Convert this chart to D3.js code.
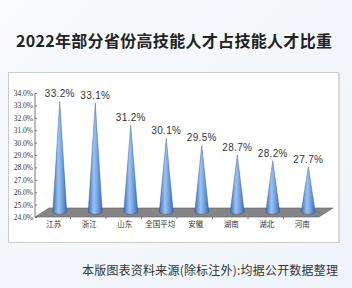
<!DOCTYPE html>
<html>
<head>
<meta charset="utf-8">
<script src="https://cdn.jsdelivr.net/npm/d3@7"></script>
<style>
  body { margin: 0; background: #f3f7fb; }
  svg { display: block; }
</style>
</head>
<body>
<svg id="chart" width="352" height="288"></svg>
<script>
const provinces = ['江苏', '浙江', '山东', '全国平均', '安徽', '湖南', '湖北', '河南'];
const shares = [33.2, 33.1, 31.2, 30.1, 29.5, 28.7, 28.2, 27.7];
const yTicks = [24, 25, 26, 27, 28, 29, 30, 31, 32, 33, 34];

const svg = d3.select('#chart');
const depthX = 14, depthY = 9;

// background gradient + panel
const defs = svg.append('defs');
const bg = defs.append('linearGradient').attr('id', 'bg').attr('x1', 0).attr('y1', 0).attr('x2', 1).attr('y2', 1);
bg.append('stop').attr('offset', '0%').attr('stop-color', '#f9fbfd');
bg.append('stop').attr('offset', '100%').attr('stop-color', '#eef4fa');
svg.append('rect').attr('width', 352).attr('height', 288).attr('fill', 'url(#bg)');

const cone = defs.append('linearGradient').attr('id', 'cone');
cone.append('stop').attr('offset', '0%').attr('stop-color', '#3a6cbc');
cone.append('stop').attr('offset', '40%').attr('stop-color', '#9cc3f0');
cone.append('stop').attr('offset', '60%').attr('stop-color', '#7eabe6');
cone.append('stop').attr('offset', '100%').attr('stop-color', '#3a6cbc');

svg.append('text')
    .attr('x', 16).attr('y', 47)
    .attr('font-family', '"Noto Sans CJK SC", sans-serif')
    .attr('font-weight', 'bold')
    .attr('font-size', 16)
    .attr('textLength', 316)
    .attr('lengthAdjust', 'spacing')
    .attr('fill', '#222')
    .text('2022年部分省份高技能人才占技能人才比重');

svg.append('rect')
    .attr('x', 8.5).attr('y', 72.5).attr('width', 330).attr('height', 170)
    .attr('fill', '#fff').attr('stroke', '#c9cbcd').attr('stroke-width', 1);
svg.append('line').attr('x1', 339).attr('x2', 339).attr('y1', 73).attr('y2', 243)
    .attr('stroke', '#d6d8da').attr('stroke-width', 2);

// scales
const x = d3.scaleBand().domain(provinces).range([35, 319]);
const y = d3.scaleLinear().domain([24, 34]).range([217, 93]);
const yCone = d3.scaleLinear().domain([24, 34]).range([210.5, 92]);

// floor
const floor = d3.path();
floor.moveTo(35, 217);
floor.lineTo(319, 217);
floor.lineTo(319 + depthX, 217 - depthY);
floor.lineTo(35 + depthX, 217 - depthY);
floor.closePath();
svg.append('path').attr('d', floor.toString())
    .attr('fill', '#858585').attr('stroke', '#5e5e5e').attr('stroke-width', 0.6);

// y axis
const yAxis = svg.append('g').attr('transform', 'translate(35,0)')
    .call(d3.axisRight(y).tickValues(yTicks).tickSize(2).tickFormat(d => d3.format('.1f')(d) + '%'));
yAxis.select('.domain').attr('stroke', '#777').attr('d', 'M0,93V217');
yAxis.selectAll('.tick line').attr('stroke', '#777');
yAxis.selectAll('.tick text')
    .attr('x', -2).attr('text-anchor', 'end')
    .attr('font-family', '"Liberation Serif", serif').attr('font-size', 7.5).attr('fill', '#333');

// x ticks on floor front edge
svg.append('g').selectAll('line')
    .data(provinces.slice(1))
    .join('line')
    .attr('x1', d => x(d)).attr('x2', d => x(d))
    .attr('y1', 217).attr('y2', 219)
    .attr('stroke', '#777');

svg.append('g').selectAll('text')
    .data(provinces)
    .join('text')
    .attr('x', d => x(d) + x.bandwidth() / 2 + 1)
    .attr('y', 227)
    .attr('text-anchor', 'middle')
    .attr('font-family', '"Noto Sans CJK SC", sans-serif')
    .attr('font-size', 7.5)
    .attr('fill', '#333')
    .text(d => d);

// cones
const baseY = 217 - depthY / 2 - 0.5;
const r = 7, ry = 2.2;
const cones = svg.append('g').selectAll('g')
    .data(provinces.map((p, i) => ({ p, v: shares[i] })))
    .join('g')
    .attr('transform', d => `translate(${x(d.p) + x.bandwidth() / 2 + depthX / 2},0)`);

cones.append('path')
    .attr('d', d => `M${-r},${baseY} L0,${yCone(d.v)} L${r},${baseY} A${r},${ry} 0 0 1 ${-r},${baseY} Z`)
    .attr('fill', 'url(#cone)')
    .attr('stroke', '#2a4f8f').attr('stroke-width', 0.4);

cones.append('text')
    .attr('y', d => yCone(d.v) - 4)
    .attr('text-anchor', 'middle')
    .attr('font-family', '"Liberation Sans", sans-serif')
    .attr('font-size', 10)
    .attr('letter-spacing', 0.3)
    .attr('fill', '#333')
    .text(d => d3.format('.1f')(d.v) + '%');

svg.append('text')
    .attr('x', 82).attr('y', 275)
    .attr('font-family', '"Noto Sans CJK SC", sans-serif')
    .attr('font-size', 12)
    .attr('textLength', 256)
    .attr('lengthAdjust', 'spacing')
    .attr('fill', '#333')
    .text('本版图表资料来源(除标注外):均据公开数据整理');
</script>
</body>
</html>
